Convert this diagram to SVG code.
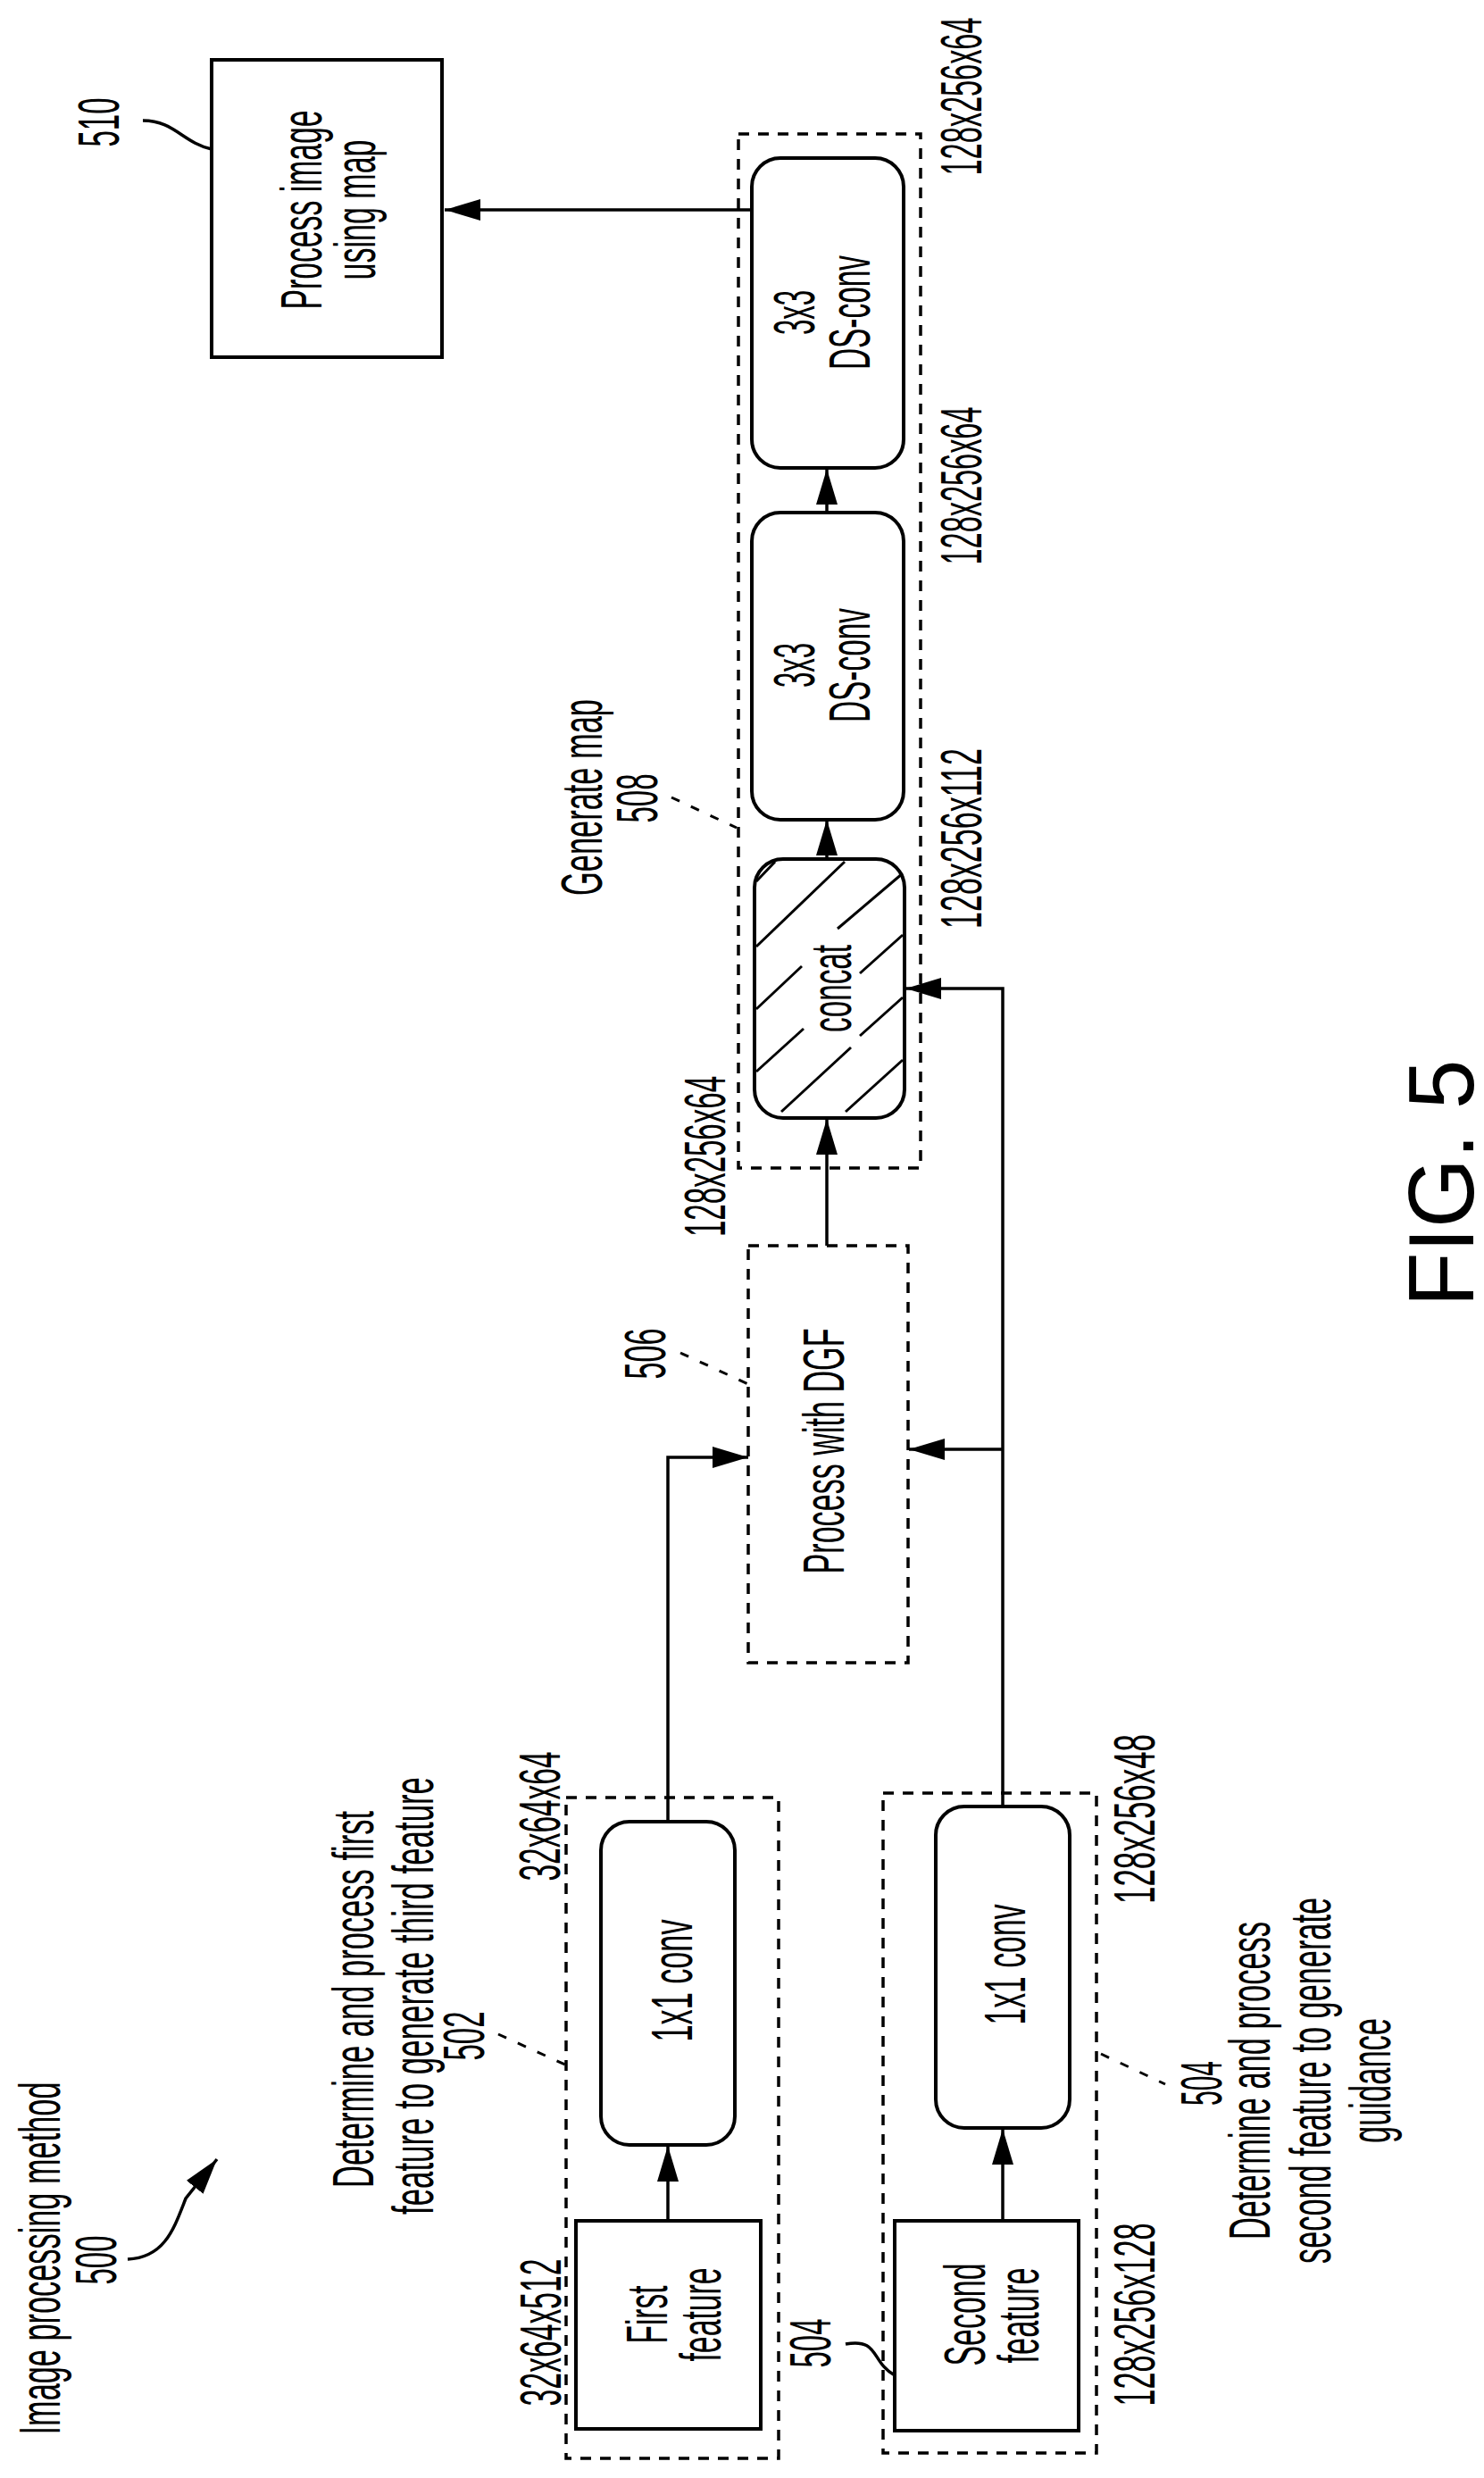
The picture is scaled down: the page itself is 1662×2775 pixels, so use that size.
<svg xmlns="http://www.w3.org/2000/svg" width="1662" height="2775" viewBox="0 0 1662 2775">
<style>
.t{font-family:"Liberation Sans",Arial,sans-serif;font-size:64px;fill:#000;text-anchor:middle}
.box{fill:#fff;stroke:#000;stroke-width:4}
.dash{fill:none;stroke:#000;stroke-width:3.5;stroke-dasharray:12 10}
.ln{fill:none;stroke:#000;stroke-width:3.5}
.ld{fill:none;stroke:#000;stroke-width:3;stroke-dasharray:10 14}
.h{stroke:#000;stroke-width:3}
</style>
<defs>
<marker id="a" markerUnits="userSpaceOnUse" markerWidth="42" markerHeight="26" refX="40" refY="12" orient="auto">
<path d="M0,0 L40,12 L0,24 Z" fill="#000"/>
</marker>
</defs>
<rect width="1662" height="2775" fill="#fff"/>
<g id="connectors">
<line class="ln" x1="840" y1="235" x2="498" y2="235" marker-end="url(#a)"/>
<line class="ln" x1="926" y1="572" x2="926" y2="525" marker-end="url(#a)"/>
<line class="ln" x1="926" y1="962" x2="926" y2="918" marker-end="url(#a)"/>
<line class="ln" x1="926" y1="1395" x2="926" y2="1253" marker-end="url(#a)"/>
<polyline class="ln" points="1123,2023 1123,1107 1014,1107" marker-end="url(#a)"/>
<polyline class="ln" points="1123,1623 1018,1623" marker-end="url(#a)"/>
<polyline class="ln" points="748,2040 748,1632 838,1632" marker-end="url(#a)"/>
<line class="ln" x1="748" y1="2487" x2="748" y2="2403" marker-end="url(#a)"/>
<line class="ln" x1="1123" y1="2487" x2="1123" y2="2384" marker-end="url(#a)"/>
<path class="ln" d="M143,2530 C185,2528 195,2495 208,2462 L243,2418" marker-end="url(#a)"/>
<path class="ln" d="M160,135 C195,135 205,160 237,167"/>
<path class="ln" d="M947,2625 C985,2618 975,2645 1002,2660"/>
<line class="ld" x1="752" y1="893" x2="825" y2="927"/>
<line class="ld" x1="762" y1="1515" x2="838" y2="1550"/>
<line class="ld" x1="558" y1="2278" x2="635" y2="2313"/>
<line class="ld" x1="1233" y1="2300" x2="1305" y2="2334"/>
</g>
<g id="n510">
<rect class="box" x="237" y="67" width="258" height="333"/>
<text class="t" transform="translate(360,235) rotate(-90)" textLength="223" lengthAdjust="spacingAndGlyphs">Process image</text>
<text class="t" transform="translate(420,235) rotate(-90)" textLength="157" lengthAdjust="spacingAndGlyphs">using map</text>
<text class="t" transform="translate(133,137) rotate(-90)" textLength="55" lengthAdjust="spacingAndGlyphs">510</text>
</g>
<g id="n508">
<rect class="dash" x="827" y="150" width="204" height="1158"/>
<text class="t" transform="translate(674,893) rotate(-90)" textLength="220" lengthAdjust="spacingAndGlyphs">Generate map</text>
<text class="t" transform="translate(736,894) rotate(-90)" textLength="55" lengthAdjust="spacingAndGlyphs">508</text>
<text class="t" transform="translate(1099,108) rotate(-90)" textLength="177" lengthAdjust="spacingAndGlyphs">128x256x64</text>
<text class="t" transform="translate(1099,544) rotate(-90)" textLength="177" lengthAdjust="spacingAndGlyphs">128x256x64</text>
<text class="t" transform="translate(1099,939) rotate(-90)" textLength="202" lengthAdjust="spacingAndGlyphs">128x256x112</text>
<text class="t" transform="translate(812,1295) rotate(-90)" textLength="180" lengthAdjust="spacingAndGlyphs">128x256x64</text>
</g>
<g id="dsconv2">
<rect class="box" x="842" y="177" width="170" height="347" rx="32"/>
<text class="t" transform="translate(912,350) rotate(-90)" textLength="50" lengthAdjust="spacingAndGlyphs">3x3</text>
<text class="t" transform="translate(974,350) rotate(-90)" textLength="128" lengthAdjust="spacingAndGlyphs">DS-conv</text>
</g>
<g id="dsconv1">
<rect class="box" x="842" y="574" width="170" height="344" rx="32"/>
<text class="t" transform="translate(912,745) rotate(-90)" textLength="50" lengthAdjust="spacingAndGlyphs">3x3</text>
<text class="t" transform="translate(974,745) rotate(-90)" textLength="128" lengthAdjust="spacingAndGlyphs">DS-conv</text>
</g>
<g id="concat">
<rect class="box" x="845" y="962" width="168" height="290" rx="32"/>
<g class="h">
<line x1="847" y1="987" x2="868" y2="965"/>
<line x1="847" y1="1060" x2="946" y2="965"/>
<line x1="938" y1="1040" x2="1011" y2="978"/>
<line x1="847" y1="1130" x2="898" y2="1082"/>
<line x1="963" y1="1090" x2="1011" y2="1047"/>
<line x1="847" y1="1200" x2="900" y2="1152"/>
<line x1="963" y1="1160" x2="1011" y2="1117"/>
<line x1="875" y1="1245" x2="953" y2="1173"/>
<line x1="947" y1="1245" x2="1011" y2="1187"/>
</g>
<text class="t" transform="translate(953,1107) rotate(-90)" textLength="98" lengthAdjust="spacingAndGlyphs">concat</text>
</g>
<g id="n506">
<rect class="dash" x="838" y="1395" width="179" height="467"/>
<text class="t" transform="translate(945,1625) rotate(-90)" textLength="275" lengthAdjust="spacingAndGlyphs">Process with DGF</text>
<text class="t" transform="translate(745,1516) rotate(-90)" textLength="57" lengthAdjust="spacingAndGlyphs">506</text>
</g>
<g id="n502">
<rect class="dash" x="634" y="2013" width="238" height="740"/>
<text class="t" transform="translate(418,2239) rotate(-90)" textLength="422" lengthAdjust="spacingAndGlyphs">Determine and process first</text>
<text class="t" transform="translate(485,2235) rotate(-90)" textLength="490" lengthAdjust="spacingAndGlyphs">feature to generate third feature</text>
<text class="t" transform="translate(542,2280) rotate(-90)" textLength="55" lengthAdjust="spacingAndGlyphs">502</text>
<text class="t" transform="translate(627,2034) rotate(-90)" textLength="145" lengthAdjust="spacingAndGlyphs">32x64x64</text>
<text class="t" transform="translate(628,2612) rotate(-90)" textLength="165" lengthAdjust="spacingAndGlyphs">32x64x512</text>
</g>
<g id="conv1">
<rect class="box" x="673" y="2040" width="150" height="362" rx="32"/>
<text class="t" transform="translate(775,2218) rotate(-90)" textLength="137" lengthAdjust="spacingAndGlyphs">1x1 conv</text>
</g>
<g id="first">
<rect class="box" x="645" y="2487" width="207" height="233"/>
<text class="t" transform="translate(747,2592) rotate(-90)" textLength="65" lengthAdjust="spacingAndGlyphs">First</text>
<text class="t" transform="translate(807,2592) rotate(-90)" textLength="105" lengthAdjust="spacingAndGlyphs">feature</text>
</g>
<g id="n504">
<rect class="dash" x="989" y="2008" width="239" height="739"/>
<text class="t" transform="translate(930,2624) rotate(-90)" textLength="55" lengthAdjust="spacingAndGlyphs">504</text>
<text class="t" transform="translate(1293,2037) rotate(-90)" textLength="190" lengthAdjust="spacingAndGlyphs">128x256x48</text>
<text class="t" transform="translate(1293,2592) rotate(-90)" textLength="205" lengthAdjust="spacingAndGlyphs">128x256x128</text>
<text class="t" transform="translate(1368,2333) rotate(-90)" textLength="50" lengthAdjust="spacingAndGlyphs">504</text>
<text class="t" transform="translate(1422,2330) rotate(-90)" textLength="356" lengthAdjust="spacingAndGlyphs">Determine and process</text>
<text class="t" transform="translate(1490,2330) rotate(-90)" textLength="410" lengthAdjust="spacingAndGlyphs">second feature to generate</text>
<text class="t" transform="translate(1557,2330) rotate(-90)" textLength="140" lengthAdjust="spacingAndGlyphs">guidance</text>
</g>
<g id="conv2">
<rect class="box" x="1048" y="2023" width="150" height="360" rx="32"/>
<text class="t" transform="translate(1148,2200) rotate(-90)" textLength="135" lengthAdjust="spacingAndGlyphs">1x1 conv</text>
</g>
<g id="second">
<rect class="box" x="1002" y="2487" width="206" height="235"/>
<text class="t" transform="translate(1103,2592) rotate(-90)" textLength="115" lengthAdjust="spacingAndGlyphs">Second</text>
<text class="t" transform="translate(1163,2593) rotate(-90)" textLength="107" lengthAdjust="spacingAndGlyphs">feature</text>
</g>
<g id="n500">
<text class="t" transform="translate(67,2529) rotate(-90)" textLength="395" lengthAdjust="spacingAndGlyphs">Image processing method</text>
<text class="t" transform="translate(130,2531) rotate(-90)" textLength="55" lengthAdjust="spacingAndGlyphs">500</text>
</g>
<g id="fig">
<text class="t" style="font-size:104px" transform="translate(1650,1325) rotate(-90)" textLength="277" lengthAdjust="spacingAndGlyphs">FIG. 5</text>
</g>
</svg>
